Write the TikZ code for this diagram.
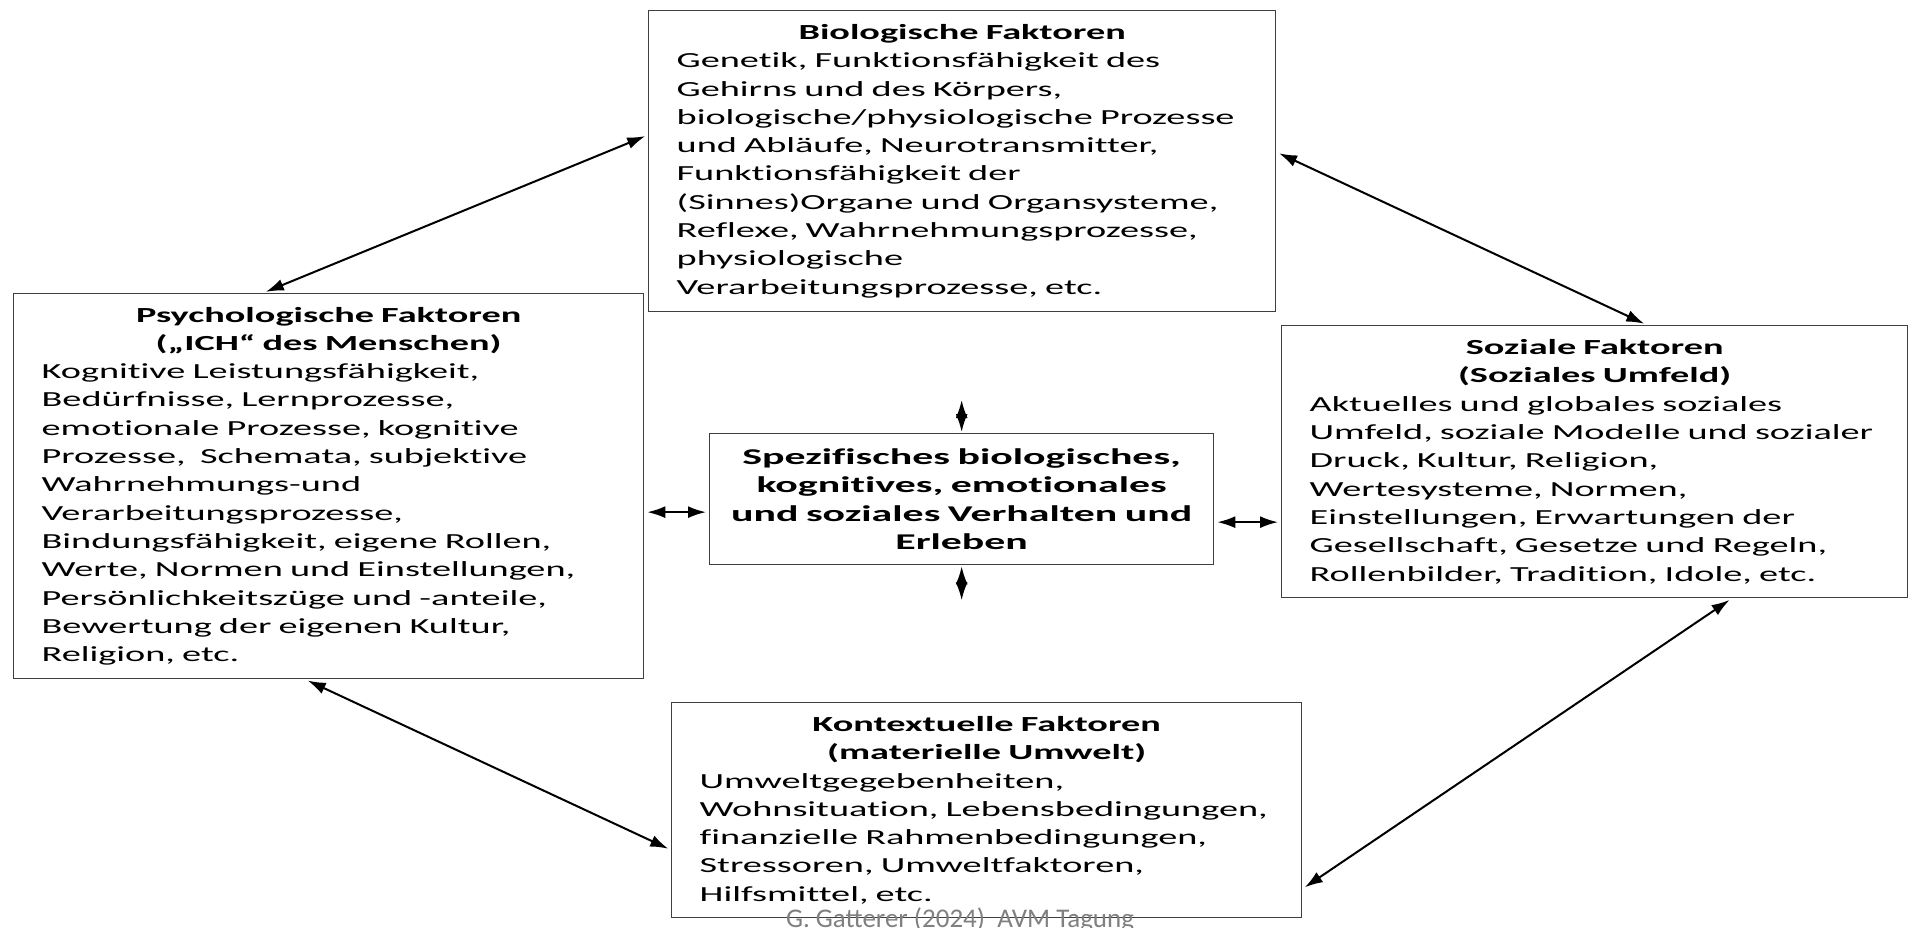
\documentclass[tikz,border=0pt]{standalone}
\usepackage{fontspec}
\setmainfont{Carlito}
\newfontfamily\wideFont[FakeStretch=1.78,Ligatures=NoCommon]{Carlito}
\newfontfamily\coreFont[FakeStretch=1.86,Ligatures=NoCommon]{Carlito}
\usetikzlibrary{
  arrows.meta,
  calc,
  positioning
}
\definecolor{frameGray}{HTML}{3F3F3F}
\definecolor{footGray}{HTML}{808080}
\newcommand{\boxTitle}[1]{{\centering\bfseries #1\par}\leftskip=8pt\relax}
\tikzset{
  factorBox/.style={
    draw=frameGray,
    line width=1.3pt,
    anchor=north west,
    align=left,
    inner xsep=20pt,
    inner ysep=0pt,
    font=\wideFont\fontsize{21.5pt}{28.3pt}\selectfont
  },
  coreBox/.style={
    draw=frameGray,
    line width=1.3pt,
    anchor=north west,
    align=center,
    inner xsep=7pt,
    inner ysep=0pt,
    text width=490pt,
    minimum height=131pt,
    font=\coreFont\bfseries\fontsize{22.5pt}{28.3pt}\selectfont
  },
  biArrow/.style={
    {Latex[length=18pt,width=12pt]}-{Latex[length=18pt,width=12pt]},
    line width=2pt,
    black,
    shorten <=3pt,
    shorten >=3pt
  },
  footText/.style={
    font=\fontsize{27pt}{32pt}\selectfont,
    text=footGray,
    inner sep=0pt
  }
}

\begin{document}
\begin{tikzpicture}[x=1pt,y=-1pt]
  \useasboundingbox (0,0) rectangle (1910,928);

  \node[factorBox, text width=587pt, minimum height=301pt] (bio) at (648,10)
    {\boxTitle{Biologische Faktoren}
     Genetik, Funktionsfähigkeit des\\
     Gehirns und des Körpers,\\
     biologische/physiologische Prozesse\\
     und Abläufe, Neurotransmitter,\\
     Funktionsfähigkeit der\\
     (Sinnes)Organe und Organsysteme,\\
     Reflexe, Wahrnehmungsprozesse,\\
     physiologische\\
     Verarbeitungsprozesse, etc.\par};
  \node[factorBox, text width=590pt, minimum height=385pt] (psych) at (13,293)
    {\boxTitle{Psychologische Faktoren\\(„ICH“ des Menschen)}
     Kognitive Leistungsfähigkeit,\\
     Bedürfnisse, Lernprozesse,\\
     emotionale Prozesse, kognitive\\
     Prozesse,\ \ Schemata, subjektive\\
     Wahrnehmungs-und\\
     Verarbeitungsprozesse,\\
     Bindungsfähigkeit, eigene Rollen,\\
     Werte, Normen und Einstellungen,\\
     Persönlichkeitszüge und -anteile,\\
     Bewertung der eigenen Kultur,\\
     Religion, etc.\par};
  \node[factorBox, text width=586pt, minimum height=272pt] (soz) at (1281,325)
    {\boxTitle{Soziale Faktoren\\(Soziales Umfeld)}
     Aktuelles und globales soziales\\
     Umfeld, soziale Modelle und sozialer\\
     Druck, Kultur, Religion,\\
     Wertesysteme, Normen,\\
     Einstellungen, Erwartungen der\\
     Gesellschaft, Gesetze und Regeln,\\
     Rollenbilder, Tradition, Idole, etc.\par};
  \node[factorBox, text width=590pt, minimum height=215pt] (ctx) at (671,702)
    {\boxTitle{Kontextuelle Faktoren\\(materielle Umwelt)}
     Umweltgegebenheiten,\\
     Wohnsituation, Lebensbedingungen,\\
     finanzielle Rahmenbedingungen,\\
     Stressoren, Umweltfaktoren,\\
     Hilfsmittel, etc.\par};
  \node[coreBox] (spez) at (709,433)
    {Spezifisches biologisches,\\kognitives, emotionales\\und soziales Verhalten und\\Erleben};

  \coordinate (spezUp) at ($(spez.north)+(0,-36)$);
  \coordinate (spezDown) at ($(spez.south)+(0,38)$);
  \coordinate (spezL) at ($(spez.west)+(0,13)$);
  \coordinate (spezR) at ($(spez.east)+(0,23)$);

  \draw[biArrow] ($(psych.north west)+(250,0)$) -- ($(bio.north west)+(0,125)$);
  \draw[biArrow] ($(bio.north east)+(0,142)$) -- ($(soz.north west)+(366,0)$);
  \draw[biArrow] ($(psych.south west)+(292,0)$) -- ($(ctx.north west)+(0,148)$);
  \draw[biArrow] ($(soz.south west)+(451,0)$) -- ($(ctx.north east)+(0,187)$);

  \draw[biArrow, shorten <=1pt] (spez.north) -- (spezUp);
  \draw[biArrow, shorten <=1pt] (spez.south) -- (spezDown);
  \draw[biArrow] (spezL) -- (spezL -| psych.east);
  \draw[biArrow] (spezR) -- (spezR -| soz.west);

  \node[footText, anchor=base] (foot) at (960,927) {G. Gatterer (2024)\ \ AVM Tagung};
\end{tikzpicture}
\end{document}
